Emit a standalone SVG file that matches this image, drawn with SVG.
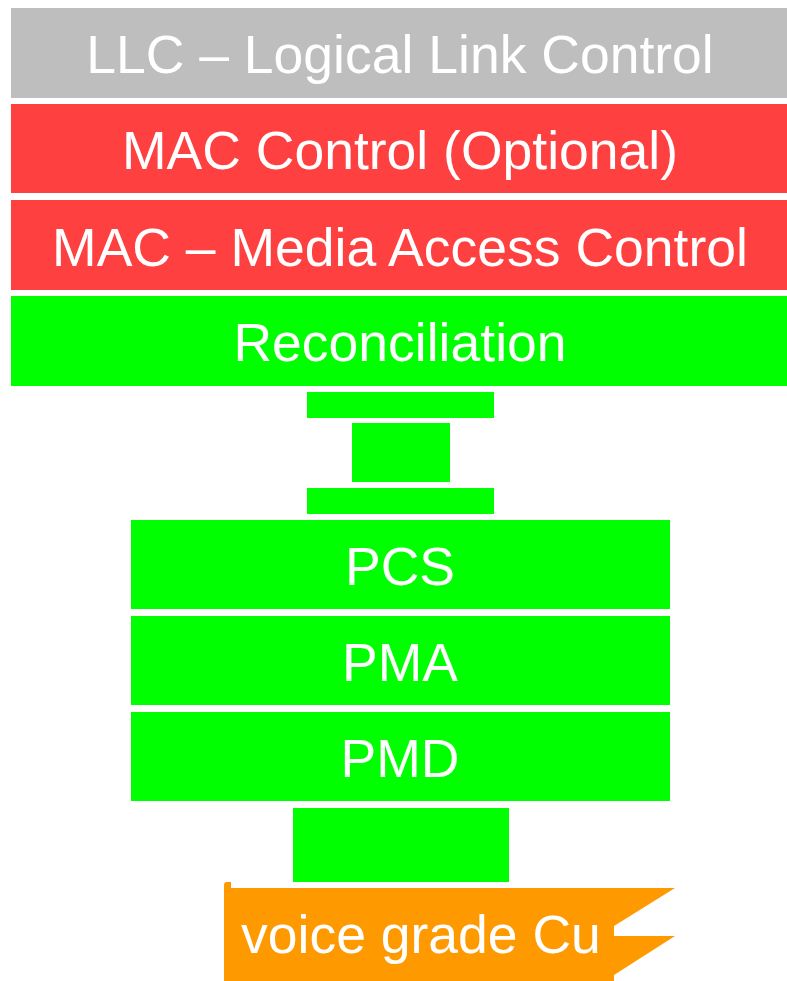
<svg xmlns="http://www.w3.org/2000/svg" width="787" height="981" viewBox="0 0 787 981">
<style>
.t{font-family:"Liberation Sans",Arial,sans-serif;font-size:53.5px;fill:#fff;text-anchor:middle}
.g{fill:#00ff00}
.r{fill:#ff4040}
</style>
<rect width="787" height="981" fill="#fff"/>
<g id="llc"><rect x="11" y="8" width="776" height="90" fill="#bebebe"/><text class="t" x="400" y="73">LLC – Logical Link Control</text></g>
<g id="mac-control"><rect class="r" x="11" y="104" width="776" height="89"/><text class="t" x="400" y="169">MAC Control (Optional)</text></g>
<g id="mac"><rect class="r" x="11" y="200" width="776" height="90"/><text class="t" x="400" y="266">MAC – Media Access Control</text></g>
<g id="reconciliation"><rect class="g" x="11" y="296" width="776" height="90"/><text class="t" x="400" y="361">Reconciliation</text></g>
<g id="mii-top"><rect class="g" x="307" y="392" width="187" height="26"/></g>
<g id="mii"><rect class="g" x="352" y="423" width="98" height="59"/></g>
<g id="mii-bottom"><rect class="g" x="307" y="488" width="187" height="26"/></g>
<g id="pcs"><rect class="g" x="131" y="520" width="539" height="89"/><text class="t" x="400" y="585">PCS</text></g>
<g id="pma"><rect class="g" x="131" y="616" width="539" height="89"/><text class="t" x="400" y="681">PMA</text></g>
<g id="pmd"><rect class="g" x="131" y="712" width="539" height="89"/><text class="t" x="400" y="777">PMD</text></g>
<g id="mdi"><rect class="g" x="293" y="808" width="216" height="74"/></g>
<g id="medium"><path d="M224,885 Q224,882 227,882 L231,882 L231,888 L675,888 L614,926 L614,936 L675,936 L614,975 L614,981 L224,981 Z" fill="#ff9900"/><text class="t" x="241" y="953" style="text-anchor:start">voice grade Cu</text></g>
<g id="connectors"></g>
</svg>
